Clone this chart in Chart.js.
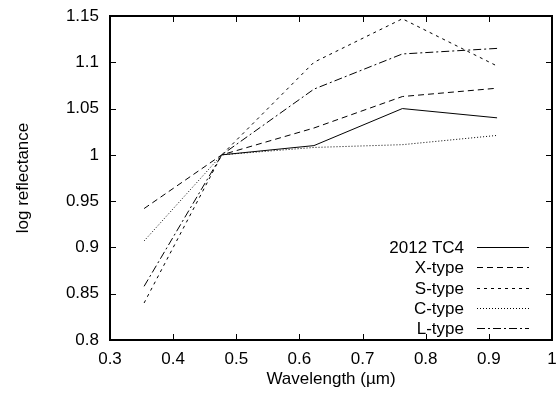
<!DOCTYPE html>
<html>
<head>
<meta charset="utf-8">
<script src="https://cdn.jsdelivr.net/npm/chart.js@4"></script>
<style>
  html, body { margin: 0; padding: 0; background: #fff; }
  #wrap { width: 557px; height: 400px; }
</style>
</head>
<body>
<div id="wrap"><canvas id="chart"></canvas></div>
<script>
// wavelengths (um) of the five filters
const wavelengths = [0.354, 0.477, 0.623, 0.763, 0.913];

const tc4   = [null, 1.0, 1.01, 1.05, 1.04];
const xType = [0.942, 1.0, 1.029, 1.063, 1.072];
const sType = [0.840, 1.0, 1.100, 1.147, 1.096];
const cType = [0.907, 1.0, 1.008, 1.011, 1.021];
const lType = [0.858, 1.0, 1.071, 1.109, 1.115];

const seriesNames = ['2012 TC4', 'X-type', 'S-type', 'C-type', 'L-type'];
const seriesDash  = [[], [6, 4], [3, 4], [1, 2], [8, 3, 2, 3]];

const FONT = 'Liberation Sans, Arial, sans-serif';
const FSIZE = 17;

const toPoints = vals => wavelengths
  .map((w, i) => ({ x: w, y: vals[i] }))
  .filter(p => p.y !== null);

const datasets = [tc4, xType, sType, cType, lType].map((vals, i) => ({
  label: seriesNames[i],
  data: toPoints(vals),
  showLine: true,
  borderColor: '#000',
  borderWidth: 1,
  borderDash: seriesDash[i],
  pointRadius: 0,
  fill: false
}));

// frame, inward ticks on all four sides, and the gnuplot-style key
const framePlugin = {
  id: 'frame',
  afterDraw(chart) {
    const { ctx, chartArea: a, scales } = chart;
    const l = Math.round(a.left), r = Math.round(a.right);
    const t = Math.round(a.top), b = Math.round(a.bottom);
    ctx.save();
    ctx.strokeStyle = '#000';
    ctx.lineWidth = 2;
    ctx.setLineDash([]);
    ctx.beginPath();
    ctx.moveTo(l, b); ctx.lineTo(l, t); ctx.lineTo(r, t); ctx.lineTo(r, b); ctx.closePath();
    ctx.stroke();

    const tl = 6;
    ctx.lineWidth = 1;
    ctx.beginPath();
    scales.x.ticks.forEach(tk => {
      const px = Math.round(scales.x.getPixelForValue(tk.value)) + 0.5;
      ctx.moveTo(px, b); ctx.lineTo(px, b - tl);
      ctx.moveTo(px, t); ctx.lineTo(px, t + tl);
    });
    scales.y.ticks.forEach(tk => {
      const py = Math.round(scales.y.getPixelForValue(tk.value)) + 0.5;
      ctx.moveTo(l, py); ctx.lineTo(l + tl, py);
      ctx.moveTo(r, py); ctx.lineTo(r - tl, py);
    });
    ctx.stroke();

    // key
    ctx.font = FSIZE + 'px ' + FONT;
    ctx.fillStyle = '#000';
    ctx.textAlign = 'right';
    ctx.textBaseline = 'middle';
    chart.data.datasets.forEach((ds, i) => {
      const y = Math.round(a.bottom - 93 + i * 20.3) + 0.5;
      ctx.fillText(ds.label, a.right - 88, y + 1);
      ctx.setLineDash(ds.borderDash);
      ctx.beginPath();
      ctx.moveTo(a.right - 75, y);
      ctx.lineTo(a.right - 23, y);
      ctx.stroke();
    });
    ctx.restore();
  }
};

const hiddenTicks = len => ({
  display: true,
  drawOnChartArea: false,
  drawTicks: true,
  tickLength: len,
  tickColor: 'rgba(0,0,0,0)'
});

new Chart(document.getElementById('chart'), {
  type: 'scatter',
  data: { datasets },
  options: {
    responsive: true,
    maintainAspectRatio: false,
    animation: false,
    layout: { padding: { top: 16, right: 5, left: 0, bottom: 0 } },
    plugins: {
      legend: { display: false },
      tooltip: { enabled: false }
    },
    scales: {
      x: {
        type: 'linear',
        min: 0.3,
        max: 1,
        grid: hiddenTicks(9),
        border: { display: false },
        ticks: {
          stepSize: 0.1,
          color: '#000',
          font: { family: FONT, size: FSIZE },
          padding: 0,
          maxRotation: 0,
          callback: v => String(+v.toFixed(2))
        },
        title: {
          display: true,
          text: 'Wavelength (\u00b5m)',
          color: '#000',
          font: { family: FONT, size: FSIZE },
          padding: { top: 0, bottom: 10 }
        },
        afterFit: s => { s.height = 60; }
      },
      y: {
        min: 0.8,
        max: 1.15,
        grid: hiddenTicks(11),
        border: { display: false },
        ticks: {
          stepSize: 0.05,
          color: '#000',
          font: { family: FONT, size: FSIZE },
          padding: 0,
          callback: v => String(+v.toFixed(2))
        },
        title: {
          display: true,
          text: 'log reflectance',
          color: '#000',
          font: { family: FONT, size: FSIZE },
          padding: { top: 13, bottom: 0 }
        },
        afterFit: s => { s.width = 110; }
      }
    }
  },
  plugins: [framePlugin]
});
</script>
</body>
</html>
